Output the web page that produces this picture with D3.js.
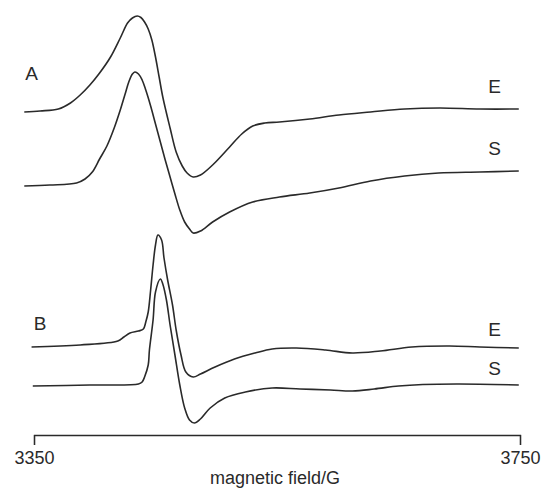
<!DOCTYPE html>
<html>
<head>
<meta charset="utf-8">
<script src="https://cdn.jsdelivr.net/npm/d3@7"></script>
<style>
    body { margin: 0; background: #fff; }
    svg { display: block; font-family: "Liberation Sans", Arial, sans-serif; }
</style>
</head>
<body>
<div id="chart"></div>
<script>
"use strict";

// Magnetic field (G) for each spectrum, with signal in arbitrary units
// measured from that spectrum's own baseline (positive = up)
const fieldAE = [3342, 3355, 3370, 3380, 3388, 3396, 3404, 3413, 3421, 3427, 3431, 3435, 3438, 3441,
    3444, 3447, 3450, 3453, 3456, 3462, 3467, 3472, 3476, 3481, 3487, 3497, 3511, 3521, 3530, 3540,
    3552, 3577, 3601, 3627, 3655, 3684, 3717, 3749];
const signalAE = [0, 1, 3, 9, 17, 27, 39, 55, 74, 89, 94, 96, 94.5, 90,
    83, 72, 55, 35, 15, -16, -40, -54, -61, -65, -63, -53, -35, -22, -14, -11,
    -10, -7, -3, 0, 3, 4, 3, 3];

const fieldAS = [3342, 3363, 3385, 3392, 3398, 3404, 3410, 3416, 3421, 3425, 3428, 3431, 3433,
    3436, 3439, 3442, 3446, 3450, 3454, 3458, 3462, 3466, 3470, 3474, 3478, 3481, 3487, 3497,
    3511, 3530, 3552, 3577, 3601, 3627, 3655, 3683, 3717, 3749];
const signalAS = [0, 1, 3, 7, 14, 27, 40, 58, 76, 92, 104, 112, 114,
    112, 106, 96, 80, 62, 44, 26, 9, -8, -24, -36, -43, -47, -45, -36,
    -26, -16, -11, -7, -2, 5, 10, 13, 14, 15];

const fieldBE = [3348, 3388, 3419, 3424, 3429, 3436, 3440, 3442, 3444, 3446, 3448, 3450, 3452,
    3455, 3457, 3460, 3464, 3467, 3471, 3475, 3481, 3487, 3499, 3515, 3532, 3546, 3566,
    3590, 3612, 3635, 3661, 3692, 3717, 3749];
const signalBE = [0, 2, 6, 10, 14, 16, 18, 25, 35, 57, 82, 102, 112,
    107, 89, 67, 42, 17, -8, -25, -30, -27, -20, -12, -6, -2, -1,
    -3, -6, -4, 0, 1, 0, -1];

const fieldBS = [3349, 3396, 3436, 3439, 3441, 3444, 3445, 3448, 3450, 3454, 3456, 3459,
    3462, 3466, 3470, 3474, 3478, 3482, 3487, 3495, 3507, 3524, 3546, 3569, 3594, 3612,
    3630, 3650, 3670, 3700, 3749];
const signalBS = [0, 1, 2, 4, 9, 21, 36, 66, 94, 107, 102, 86,
    61, 31, 1, -22, -34, -37, -33, -22, -12, -6, -2, -3, -4, -5,
    -3, 0, 1.5, 2, 1];

// Vertical offset of each spectrum's baseline, same arbitrary units
const traceNames = ['E', 'S', 'E', 'S'];
const traceOffsets = [323, 249, 88, 49];
const panelNames = ['A', 'B'];
const fieldTicks = [3350, 3750];
const axisTitle = 'magnetic field/G';

const traces = [
    {panel: 0, field: fieldAE, signal: signalAE},
    {panel: 0, field: fieldAS, signal: signalAS},
    {panel: 1, field: fieldBE, signal: signalBE},
    {panel: 1, field: fieldBS, signal: signalBS}
].map(function (t, i) {
    t.name = traceNames[i];
    t.offset = traceOffsets[i];
    t.points = t.field.map(function (f, j) { return {f: f, s: t.signal[j] + t.offset}; });
    return t;
});

const width = 544, height = 489;
const axisY = 435;
const ink = '#2a2a2a';

const svg = d3.select('#chart').append('svg')
    .attr('width', width)
    .attr('height', height);

let x = d3.scaleLinear()
    .domain([3350, 3750])
    .range([34, 520]);
let y = d3.scaleLinear()  // Arbitrary intensity, 0 at the field axis
    .domain([0, axisY])
    .range([axisY, 0]);

let line = d3.line()
    .x(function (d) { return x(d.f); })
    .y(function (d) { return y(d.s); })
    .curve(d3.curveCatmullRom.alpha(0.5));  // Smooth, passes through points

svg.selectAll('path.trace')
  .data(traces)
  .enter().append('path')
    .classed('trace', true)
    .attr('d', function (d) { return line(d.points); })
    .attr('fill', 'none')
    .attr('stroke', ink)
    .attr('stroke-width', 1.6)
    .attr('stroke-linejoin', 'round');

// E / S labels sit above the right end of each trace
let labelGap = [16, 16, 12, 10];
svg.selectAll('text.trace-label')
  .data(traces)
  .enter().append('text')
    .classed('trace-label', true)
    .attr('x', x(3729))
    .attr('y', function (d, i) {
        return y(d.points[d.points.length - 1].s) - labelGap[i];
    })
    .attr('text-anchor', 'middle')
    .style('font-size', '19px')
    .style('fill', ink)
    .text(function (d) { return d.name; });

// Panel letters, left of the top trace in each panel
let panelLabelPos = [{f: 3342, gap: 32}, {f: 3349, gap: 17}];
svg.selectAll('text.panel')
  .data(panelNames)
  .enter().append('text')
    .classed('panel', true)
    .attr('x', function (d, i) { return x(panelLabelPos[i].f) + 1; })
    .attr('y', function (d, i) { return y(traceOffsets[i * 2]) - panelLabelPos[i].gap; })
    .style('font-size', '19px')
    .style('fill', ink)
    .text(function (d) { return d; });

let xAxis = d3.axisBottom(x)
    .tickValues(fieldTicks)
    .tickSizeInner(10)
    .tickSizeOuter(10)
    .tickPadding(6)
    .tickFormat(d3.format('d'));

let axisG = svg.append('g')
    .attr('transform', 'translate(0,' + axisY + ')')
    .call(xAxis);
axisG.select('.domain').attr('stroke', ink).attr('stroke-width', 1.3);
axisG.selectAll('.tick line').attr('stroke', ink).attr('stroke-width', 1.3);
axisG.selectAll('.tick text')
    .style('font-family', '"Liberation Sans", Arial, sans-serif')
    .style('font-size', '18px')
    .style('fill', ink);

svg.append('text')
    .attr('x', 275)
    .attr('y', 484)
    .attr('text-anchor', 'middle')
    .style('font-size', '18px')
    .style('fill', ink)
    .text(axisTitle);
</script>
</body>
</html>
